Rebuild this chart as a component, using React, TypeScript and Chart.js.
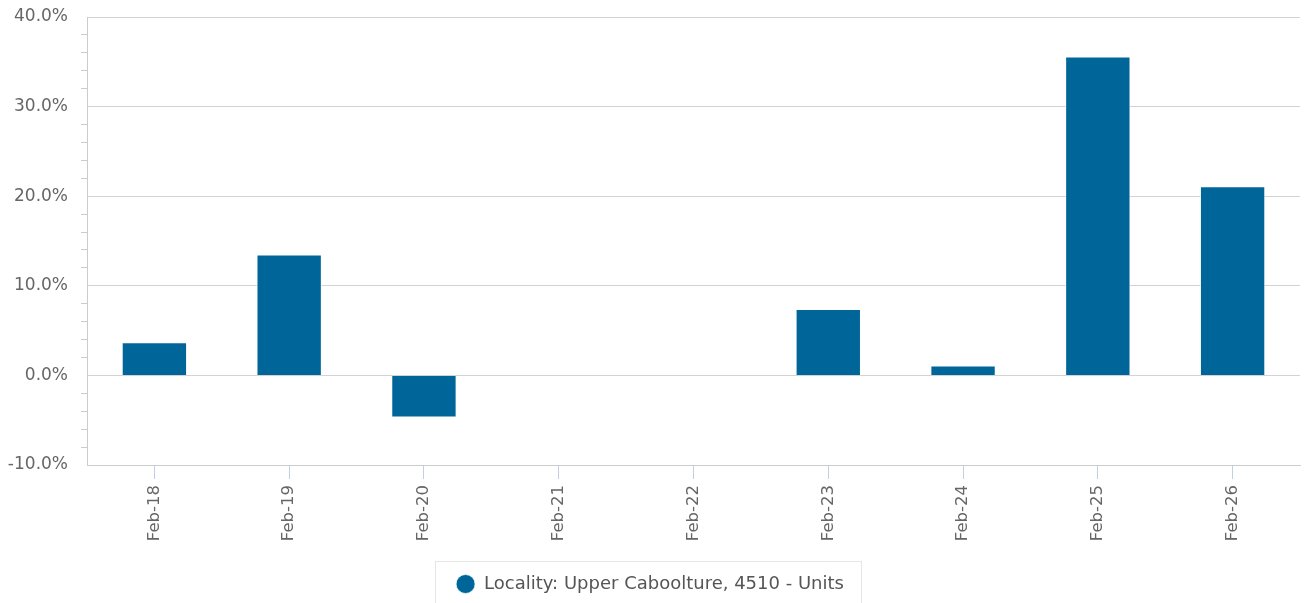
import React, { useEffect, useRef } from "react";
import { Chart, registerables } from "chart.js";

Chart.register(...registerables);

const categories = ["Feb-18", "Feb-19", "Feb-20", "Feb-21", "Feb-22", "Feb-23", "Feb-24", "Feb-25", "Feb-26"];
const seriesName = "Locality: Upper Caboolture, 4510 - Units";
const values = [3.7, 13.5, -4.7, 0, 0, 7.4, 1.1, 35.6, 21.1];
const yMin = -10;
const yMax = 40;
const yStep = 2;
const yMajor = 10;

const FONT = "'DejaVu Sans', sans-serif";
const BAR_COLOR = "#006699";

const legendBorder = {
  id: "legendBorder",
  afterDraw(chart: any) {
    const lg = chart.legend;
    if (!lg || !lg.legendHitBoxes || !lg.legendHitBoxes.length) return;
    const hb = lg.legendHitBoxes[0];
    const cy = hb.top + hb.height / 2;
    const ctx = chart.ctx;
    ctx.save();
    ctx.strokeStyle = "#e6e6e6";
    ctx.lineWidth = 1;
    ctx.strokeRect(Math.round(hb.left - 21) + 0.5, Math.round(cy - 23) + 0.5, Math.round(hb.width + 38), 80);
    ctx.restore();
  },
};

export default function App() {
  const ref = useRef<HTMLCanvasElement | null>(null);
  useEffect(() => {
    if (!ref.current) return;
    const chart = new Chart(ref.current, {
      type: "bar",
      data: {
        labels: categories,
        datasets: [
          {
            label: seriesName,
            data: values,
            backgroundColor: BAR_COLOR,
            borderColor: "rgba(255,255,255,0.7)",
            borderWidth: 1,
            barPercentage: 0.485,
            categoryPercentage: 1,
          },
        ],
      },
      options: {
        animation: false,
        responsive: true,
        maintainAspectRatio: false,
        layout: { padding: { top: 17, right: 4, left: 0, bottom: 0 } },
        scales: {
          x: {
            offset: true,
            grid: {
              offset: false,
              drawOnChartArea: false,
              drawTicks: true,
              tickLength: 14,
              tickColor: "#c3cde3",
            },
            border: { display: true, color: "#cccccc" },
            ticks: {
              minRotation: 90,
              maxRotation: 90,
              padding: 6,
              color: "#666666",
              font: { family: FONT, size: 16.5 },
            },
            afterFit(scale: any) {
              scale.height = 100;
              scale.paddingLeft = 0;
              scale.paddingRight = 0;
            },
          },
          y: {
            min: yMin,
            max: yMax,
            ticks: {
              stepSize: yStep,
              autoSkip: false,
              padding: 13,
              color: "#666666",
              font: { family: FONT, size: 17 },
              callback: (v: any) => (Math.abs(Number(v) % yMajor) < 1e-9 ? Number(v).toFixed(1) + "%" : ""),
            },
            grid: {
              drawTicks: true,
              tickLength: 6,
              color: (c: any) => (Math.abs(c.tick.value % yMajor) < 1e-9 ? "#d3d3d3" : "rgba(0,0,0,0)"),
              tickColor: (c: any) => (Math.abs(c.tick.value % yMajor) < 1e-9 ? "rgba(0,0,0,0)" : "#cccccc"),
            },
            border: { display: true, color: "#cccccc" },
            afterFit(scale: any) {
              scale.width = 87;
              scale.paddingTop = 0;
              scale.paddingBottom = 0;
            },
          },
        },
        plugins: {
          tooltip: { enabled: false },
          legend: {
            display: true,
            position: "bottom",
            labels: {
              usePointStyle: true,
              pointStyle: "circle",
              pointStyleWidth: 19,
              boxHeight: 13.4,
              padding: 10,
              color: "#555555",
              font: { family: FONT, size: 18 },
            },
          },
        },
      },
      plugins: [legendBorder],
    });
    return () => chart.destroy();
  }, []);
  return (
    <div style={{ position: "fixed", left: 0, top: 0, width: 1304, height: 603, background: "#fff" }}>
      <canvas ref={ref} />
    </div>
  );
}
